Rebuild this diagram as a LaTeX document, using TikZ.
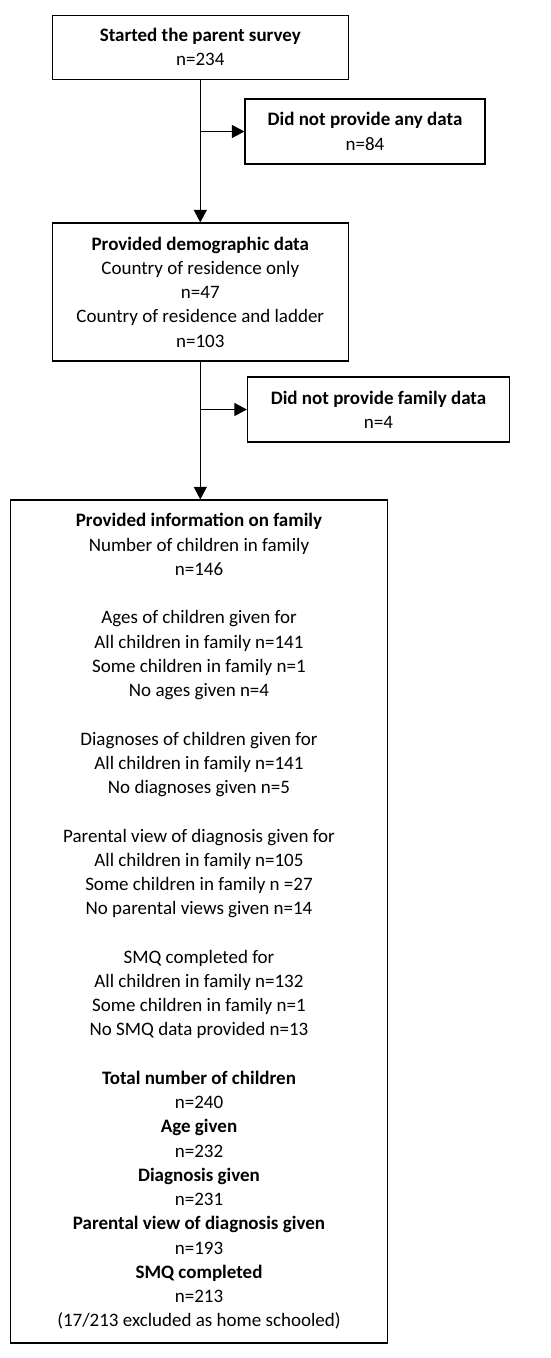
\documentclass[tikz,border=0pt]{standalone}
\usepackage{fontspec}
\setmainfont{Carlito}
\usetikzlibrary{arrows.meta,positioning,calc}

\begin{document}
\begin{tikzpicture}[x=1pt,y=-1pt,
box/.style={draw,line width=1.2pt,align=center,inner sep=0pt,font=\fontsize{19}{24.24}\selectfont},
arr/.style={line width=1.1pt,-{Triangle[length=12.5pt,width=13pt]}}]
\useasboundingbox (0,0) rectangle (550,1358);

\node[box,minimum width=296pt,minimum height=64pt] (1) at (200.3,47.2) {\textbf{Started the parent survey}\\n=234};
\node[box,minimum width=240pt,minimum height=65pt] (A) at (365,131.5) {\textbf{Did not provide any data}\\n=84};
\node[box,minimum width=296pt,minimum height=138pt] (2) at (200.3,292) {\textbf{Provided demographic data}\\Country of residence only\\n=47\\Country of residence and ladder\\n=103};
\node[box,minimum width=262pt,minimum height=65pt] (B) at (378.5,409.5) {\textbf{Did not provide family data}\\n=4};
\node[box,minimum width=377pt,minimum height=843pt] (3) at (199,921.5) {\textbf{Provided information on family}\\Number of children in family\\n=146\\[24.24pt]
Ages of children given for\\All children in family n=141\\Some children in family n=1\\No ages given n=4\\[24.24pt]
Diagnoses of children given for\\All children in family n=141\\No diagnoses given n=5\\[24.24pt]
Parental view of diagnosis given for\\All children in family n=105\\Some children in family n =27\\No parental views given n=14\\[24.24pt]
SMQ completed for\\All children in family n=132\\Some children in family n=1\\No SMQ data provided n=13\\[24.24pt]
\textbf{Total number of children}\\n=240\\\textbf{Age given}\\n=232\\\textbf{Diagnosis given}\\n=231\\
\textbf{Parental view of diagnosis given}\\n=193\\\textbf{SMQ completed}\\n=213\\(17/213 excluded as home schooled)};

\coordinate (E) at (1.south |- A.west);
\coordinate (F) at (2.south |- B.west);
\draw[arr] (1.south) -- (1.south |- 2.north);
\draw[arr] (E) -- (A.west);
\draw[arr] (2.south) -- (2.south |- 3.north);
\draw[arr] (F) -- (B.west);
\end{tikzpicture}
\end{document}
